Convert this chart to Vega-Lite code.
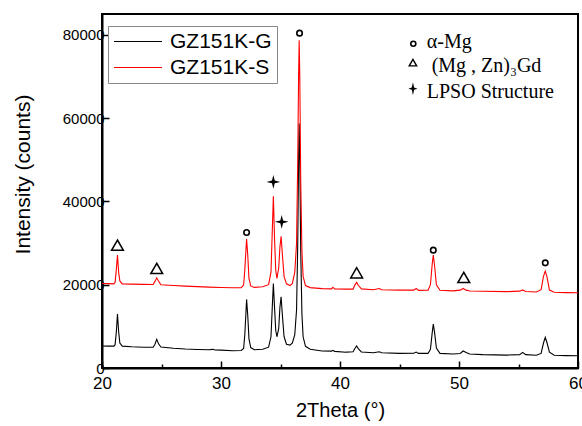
{
  "$schema": "https://vega.github.io/schema/vega-lite/v6.json",
  "autosize": "none",
  "padding": {"left": 102, "top": 14, "right": 4, "bottom": 58},
  "width": 476,
  "height": 354,
  "background": "white",
  "config": {
    "view": {"stroke": "black", "strokeWidth": 2},
    "axis": {"domainColor": "black", "domainWidth": 2, "tickColor": "black", "tickWidth": 1.5, "labelColor": "black", "titleColor": "black", "labelFont": "Liberation Sans", "titleFont": "Liberation Sans", "titleFontWeight": "normal", "grid": false, "labelFlush": false}
  },
  "datasets": {
    "xrd": [
      {"sample": "GZ151K-G", "t": 20.0, "i": 5300}, {"sample": "GZ151K-G", "t": 20.5, "i": 5250}, {"sample": "GZ151K-G", "t": 21.0, "i": 5250}, {"sample": "GZ151K-G", "t": 21.1, "i": 5600}, {"sample": "GZ151K-G", "t": 21.2, "i": 8500}, {"sample": "GZ151K-G", "t": 21.3, "i": 12950}, {"sample": "GZ151K-G", "t": 21.4, "i": 8700}, {"sample": "GZ151K-G", "t": 21.5, "i": 6000}, {"sample": "GZ151K-G", "t": 21.7, "i": 5250}, {"sample": "GZ151K-G", "t": 22.5, "i": 5100}, {"sample": "GZ151K-G", "t": 23.5, "i": 5000}, {"sample": "GZ151K-G", "t": 24.3, "i": 5000}, {"sample": "GZ151K-G", "t": 24.45, "i": 5700}, {"sample": "GZ151K-G", "t": 24.6, "i": 6880}, {"sample": "GZ151K-G", "t": 24.75, "i": 5800}, {"sample": "GZ151K-G", "t": 24.95, "i": 5050}, {"sample": "GZ151K-G", "t": 26.0, "i": 4750}, {"sample": "GZ151K-G", "t": 27.0, "i": 4550}, {"sample": "GZ151K-G", "t": 28.0, "i": 4450}, {"sample": "GZ151K-G", "t": 29.0, "i": 4380}, {"sample": "GZ151K-G", "t": 29.3, "i": 4480}, {"sample": "GZ151K-G", "t": 29.5, "i": 4330}, {"sample": "GZ151K-G", "t": 30.0, "i": 4300}, {"sample": "GZ151K-G", "t": 31.0, "i": 4150}, {"sample": "GZ151K-G", "t": 31.7, "i": 4200}, {"sample": "GZ151K-G", "t": 31.9, "i": 4700}, {"sample": "GZ151K-G", "t": 32.0, "i": 8000}, {"sample": "GZ151K-G", "t": 32.1, "i": 13500}, {"sample": "GZ151K-G", "t": 32.15, "i": 16470}, {"sample": "GZ151K-G", "t": 32.25, "i": 12500}, {"sample": "GZ151K-G", "t": 32.35, "i": 7000}, {"sample": "GZ151K-G", "t": 32.5, "i": 4900}, {"sample": "GZ151K-G", "t": 32.8, "i": 4400}, {"sample": "GZ151K-G", "t": 33.5, "i": 4500}, {"sample": "GZ151K-G", "t": 34.0, "i": 5000}, {"sample": "GZ151K-G", "t": 34.2, "i": 7500}, {"sample": "GZ151K-G", "t": 34.3, "i": 14000}, {"sample": "GZ151K-G", "t": 34.4, "i": 20300}, {"sample": "GZ151K-G", "t": 34.5, "i": 14500}, {"sample": "GZ151K-G", "t": 34.6, "i": 9000}, {"sample": "GZ151K-G", "t": 34.7, "i": 7500}, {"sample": "GZ151K-G", "t": 34.85, "i": 9500}, {"sample": "GZ151K-G", "t": 34.95, "i": 14500}, {"sample": "GZ151K-G", "t": 35.05, "i": 17100}, {"sample": "GZ151K-G", "t": 35.15, "i": 13000}, {"sample": "GZ151K-G", "t": 35.3, "i": 7500}, {"sample": "GZ151K-G", "t": 35.5, "i": 5700}, {"sample": "GZ151K-G", "t": 35.8, "i": 5500}, {"sample": "GZ151K-G", "t": 36.0, "i": 6000}, {"sample": "GZ151K-G", "t": 36.2, "i": 8000}, {"sample": "GZ151K-G", "t": 36.35, "i": 14000}, {"sample": "GZ151K-G", "t": 36.45, "i": 30000}, {"sample": "GZ151K-G", "t": 36.52, "i": 50000}, {"sample": "GZ151K-G", "t": 36.57, "i": 58700}, {"sample": "GZ151K-G", "t": 36.62, "i": 50000}, {"sample": "GZ151K-G", "t": 36.7, "i": 28000}, {"sample": "GZ151K-G", "t": 36.8, "i": 13000}, {"sample": "GZ151K-G", "t": 36.9, "i": 7500}, {"sample": "GZ151K-G", "t": 37.1, "i": 5200}, {"sample": "GZ151K-G", "t": 37.5, "i": 4500}, {"sample": "GZ151K-G", "t": 38.5, "i": 4100}, {"sample": "GZ151K-G", "t": 39.3, "i": 4050}, {"sample": "GZ151K-G", "t": 39.4, "i": 4250}, {"sample": "GZ151K-G", "t": 39.55, "i": 4000}, {"sample": "GZ151K-G", "t": 40.5, "i": 3800}, {"sample": "GZ151K-G", "t": 41.1, "i": 3900}, {"sample": "GZ151K-G", "t": 41.25, "i": 4700}, {"sample": "GZ151K-G", "t": 41.4, "i": 5280}, {"sample": "GZ151K-G", "t": 41.55, "i": 4600}, {"sample": "GZ151K-G", "t": 41.8, "i": 3850}, {"sample": "GZ151K-G", "t": 42.8, "i": 3650}, {"sample": "GZ151K-G", "t": 43.3, "i": 3900}, {"sample": "GZ151K-G", "t": 43.5, "i": 3650}, {"sample": "GZ151K-G", "t": 45.0, "i": 3500}, {"sample": "GZ151K-G", "t": 46.2, "i": 3550}, {"sample": "GZ151K-G", "t": 46.4, "i": 3840}, {"sample": "GZ151K-G", "t": 46.6, "i": 3500}, {"sample": "GZ151K-G", "t": 47.4, "i": 3500}, {"sample": "GZ151K-G", "t": 47.6, "i": 4500}, {"sample": "GZ151K-G", "t": 47.75, "i": 8500}, {"sample": "GZ151K-G", "t": 47.84, "i": 10550}, {"sample": "GZ151K-G", "t": 47.95, "i": 8500}, {"sample": "GZ151K-G", "t": 48.1, "i": 4800}, {"sample": "GZ151K-G", "t": 48.4, "i": 3500}, {"sample": "GZ151K-G", "t": 49.5, "i": 3350}, {"sample": "GZ151K-G", "t": 50.1, "i": 3500}, {"sample": "GZ151K-G", "t": 50.35, "i": 4080}, {"sample": "GZ151K-G", "t": 50.6, "i": 3700}, {"sample": "GZ151K-G", "t": 50.9, "i": 3350}, {"sample": "GZ151K-G", "t": 52.0, "i": 3200}, {"sample": "GZ151K-G", "t": 54.0, "i": 3100}, {"sample": "GZ151K-G", "t": 55.1, "i": 3200}, {"sample": "GZ151K-G", "t": 55.35, "i": 3760}, {"sample": "GZ151K-G", "t": 55.6, "i": 3200}, {"sample": "GZ151K-G", "t": 56.5, "i": 3050}, {"sample": "GZ151K-G", "t": 56.9, "i": 3500}, {"sample": "GZ151K-G", "t": 57.1, "i": 6000}, {"sample": "GZ151K-G", "t": 57.25, "i": 7360}, {"sample": "GZ151K-G", "t": 57.4, "i": 6000}, {"sample": "GZ151K-G", "t": 57.6, "i": 3800}, {"sample": "GZ151K-G", "t": 58.0, "i": 3050}, {"sample": "GZ151K-G", "t": 59.0, "i": 2970}, {"sample": "GZ151K-G", "t": 60.0, "i": 2950},
      {"sample": "GZ151K-S", "t": 20.0, "i": 20300}, {"sample": "GZ151K-S", "t": 20.5, "i": 20250}, {"sample": "GZ151K-S", "t": 21.0, "i": 20200}, {"sample": "GZ151K-S", "t": 21.1, "i": 20600}, {"sample": "GZ151K-S", "t": 21.2, "i": 23500}, {"sample": "GZ151K-S", "t": 21.3, "i": 27100}, {"sample": "GZ151K-S", "t": 21.4, "i": 23000}, {"sample": "GZ151K-S", "t": 21.5, "i": 20900}, {"sample": "GZ151K-S", "t": 21.7, "i": 20200}, {"sample": "GZ151K-S", "t": 22.5, "i": 20150}, {"sample": "GZ151K-S", "t": 23.5, "i": 20080}, {"sample": "GZ151K-S", "t": 24.3, "i": 20050}, {"sample": "GZ151K-S", "t": 24.45, "i": 20800}, {"sample": "GZ151K-S", "t": 24.6, "i": 21650}, {"sample": "GZ151K-S", "t": 24.75, "i": 20900}, {"sample": "GZ151K-S", "t": 24.95, "i": 20000}, {"sample": "GZ151K-S", "t": 26.0, "i": 19800}, {"sample": "GZ151K-S", "t": 27.0, "i": 19660}, {"sample": "GZ151K-S", "t": 28.0, "i": 19550}, {"sample": "GZ151K-S", "t": 29.0, "i": 19420}, {"sample": "GZ151K-S", "t": 30.0, "i": 19330}, {"sample": "GZ151K-S", "t": 31.0, "i": 19260}, {"sample": "GZ151K-S", "t": 31.7, "i": 19300}, {"sample": "GZ151K-S", "t": 31.9, "i": 19900}, {"sample": "GZ151K-S", "t": 32.0, "i": 23500}, {"sample": "GZ151K-S", "t": 32.1, "i": 28500}, {"sample": "GZ151K-S", "t": 32.15, "i": 30940}, {"sample": "GZ151K-S", "t": 32.25, "i": 27000}, {"sample": "GZ151K-S", "t": 32.35, "i": 21500}, {"sample": "GZ151K-S", "t": 32.5, "i": 19700}, {"sample": "GZ151K-S", "t": 32.8, "i": 19350}, {"sample": "GZ151K-S", "t": 33.5, "i": 19500}, {"sample": "GZ151K-S", "t": 34.0, "i": 20000}, {"sample": "GZ151K-S", "t": 34.2, "i": 23000}, {"sample": "GZ151K-S", "t": 34.3, "i": 32000}, {"sample": "GZ151K-S", "t": 34.4, "i": 41250}, {"sample": "GZ151K-S", "t": 34.5, "i": 31000}, {"sample": "GZ151K-S", "t": 34.6, "i": 23500}, {"sample": "GZ151K-S", "t": 34.7, "i": 21500}, {"sample": "GZ151K-S", "t": 34.85, "i": 24000}, {"sample": "GZ151K-S", "t": 34.95, "i": 29000}, {"sample": "GZ151K-S", "t": 35.05, "i": 31650}, {"sample": "GZ151K-S", "t": 35.15, "i": 27500}, {"sample": "GZ151K-S", "t": 35.3, "i": 22000}, {"sample": "GZ151K-S", "t": 35.5, "i": 20200}, {"sample": "GZ151K-S", "t": 35.8, "i": 19800}, {"sample": "GZ151K-S", "t": 36.0, "i": 20300}, {"sample": "GZ151K-S", "t": 36.2, "i": 23000}, {"sample": "GZ151K-S", "t": 36.35, "i": 30000}, {"sample": "GZ151K-S", "t": 36.45, "i": 50000}, {"sample": "GZ151K-S", "t": 36.52, "i": 70000}, {"sample": "GZ151K-S", "t": 36.57, "i": 78700}, {"sample": "GZ151K-S", "t": 36.62, "i": 70000}, {"sample": "GZ151K-S", "t": 36.7, "i": 45000}, {"sample": "GZ151K-S", "t": 36.8, "i": 28000}, {"sample": "GZ151K-S", "t": 36.9, "i": 22000}, {"sample": "GZ151K-S", "t": 37.1, "i": 19800}, {"sample": "GZ151K-S", "t": 37.5, "i": 19300}, {"sample": "GZ151K-S", "t": 38.5, "i": 19050}, {"sample": "GZ151K-S", "t": 39.3, "i": 19000}, {"sample": "GZ151K-S", "t": 39.4, "i": 19400}, {"sample": "GZ151K-S", "t": 39.55, "i": 19000}, {"sample": "GZ151K-S", "t": 40.5, "i": 18950}, {"sample": "GZ151K-S", "t": 41.1, "i": 18950}, {"sample": "GZ151K-S", "t": 41.25, "i": 19900}, {"sample": "GZ151K-S", "t": 41.4, "i": 20550}, {"sample": "GZ151K-S", "t": 41.55, "i": 19800}, {"sample": "GZ151K-S", "t": 41.8, "i": 19000}, {"sample": "GZ151K-S", "t": 42.8, "i": 18800}, {"sample": "GZ151K-S", "t": 43.3, "i": 19100}, {"sample": "GZ151K-S", "t": 43.5, "i": 18800}, {"sample": "GZ151K-S", "t": 45.0, "i": 18700}, {"sample": "GZ151K-S", "t": 46.2, "i": 18700}, {"sample": "GZ151K-S", "t": 46.4, "i": 19100}, {"sample": "GZ151K-S", "t": 46.6, "i": 18650}, {"sample": "GZ151K-S", "t": 47.4, "i": 18700}, {"sample": "GZ151K-S", "t": 47.6, "i": 20000}, {"sample": "GZ151K-S", "t": 47.75, "i": 25000}, {"sample": "GZ151K-S", "t": 47.84, "i": 27100}, {"sample": "GZ151K-S", "t": 47.95, "i": 24500}, {"sample": "GZ151K-S", "t": 48.1, "i": 20000}, {"sample": "GZ151K-S", "t": 48.4, "i": 18650}, {"sample": "GZ151K-S", "t": 49.5, "i": 18520}, {"sample": "GZ151K-S", "t": 50.1, "i": 18700}, {"sample": "GZ151K-S", "t": 50.35, "i": 19110}, {"sample": "GZ151K-S", "t": 50.6, "i": 18700}, {"sample": "GZ151K-S", "t": 50.9, "i": 18480}, {"sample": "GZ151K-S", "t": 52.0, "i": 18420}, {"sample": "GZ151K-S", "t": 54.0, "i": 18330}, {"sample": "GZ151K-S", "t": 55.1, "i": 18450}, {"sample": "GZ151K-S", "t": 55.35, "i": 18750}, {"sample": "GZ151K-S", "t": 55.6, "i": 18350}, {"sample": "GZ151K-S", "t": 56.5, "i": 18250}, {"sample": "GZ151K-S", "t": 56.9, "i": 18800}, {"sample": "GZ151K-S", "t": 57.1, "i": 22000}, {"sample": "GZ151K-S", "t": 57.25, "i": 23260}, {"sample": "GZ151K-S", "t": 57.4, "i": 21800}, {"sample": "GZ151K-S", "t": 57.6, "i": 18700}, {"sample": "GZ151K-S", "t": 58.0, "i": 18200}, {"sample": "GZ151K-S", "t": 59.0, "i": 18100}, {"sample": "GZ151K-S", "t": 60.0, "i": 18060}
    ],
    "markers": [
      {"phase": "alpha", "group": "peak", "t": 36.6, "i": 80400},
      {"phase": "alpha", "group": "peak", "t": 32.15, "i": 32540},
      {"phase": "alpha", "group": "peak", "t": 47.84, "i": 28300},
      {"phase": "alpha", "group": "peak", "t": 57.25, "i": 25250},
      {"phase": "alpha", "group": "key", "t": 46.16, "i": 77870},
      {"phase": "tri", "group": "peak", "t": 21.3, "i": 29500},
      {"phase": "tri", "group": "peak", "t": 24.6, "i": 23900},
      {"phase": "tri", "group": "peak", "t": 41.4, "i": 22850},
      {"phase": "tri", "group": "peak", "t": 50.4, "i": 21750},
      {"phase": "tri", "group": "key", "t": 46.13, "i": 73310},
      {"phase": "lpso", "group": "peak", "t": 34.4, "i": 44680},
      {"phase": "lpso", "group": "peak", "t": 35.1, "i": 35090},
      {"phase": "lpso", "group": "key", "t": 46.13, "i": 67080}
    ],
    "notes": [
      {"t": 47.29, "i": 76740, "label": "α-Mg"},
      {"t": 47.7, "i": 71060, "label": "(Mg , Zn)₃Gd"},
      {"t": 47.29, "i": 64920, "label": "LPSO Structure"}
    ]
  },
  "layer": [
    {
      "data": {"name": "xrd"},
      "mark": {"type": "line", "strokeWidth": 1.1},
      "encoding": {
        "x": {"field": "t", "type": "quantitative", "scale": {"domain": [20, 60], "nice": false, "zero": false},
              "axis": {"orient": "bottom", "values": [20, 30, 40, 50, 60], "tickSize": -7, "labelPadding": 14, "labelFontSize": 17, "title": "2Theta (°)", "titleFontSize": 20, "titlePadding": 9}},
        "y": {"field": "i", "type": "quantitative", "scale": {"domain": [0, 85000], "nice": false},
              "axis": {"values": [0, 20000, 40000, 60000, 80000], "format": "d", "tickSize": -7, "labelPadding": 5, "labelFontSize": 15, "title": "Intensity (counts)", "titleFontSize": 21, "titlePadding": 29, "titleY": 160}},
        "color": {"field": "sample", "type": "nominal", "scale": {"domain": ["GZ151K-G", "GZ151K-S"], "range": ["#000000", "#ff0000"]},
                  "legend": {"title": null, "orient": "none", "legendX": 6, "legendY": 12, "symbolType": "stroke", "symbolSize": 2304, "symbolStrokeWidth": 1.2, "clipHeight": 21, "rowPadding": 4, "labelFontSize": 21, "labelFont": "Liberation Sans", "labelColor": "black", "labelOffset": 7, "padding": 5, "strokeColor": "#888888", "fillColor": "white"}},
        "detail": {"field": "sample"}
      }
    },
    {
      "data": {"name": "markers"},
      "transform": [{"filter": "datum.phase == 'alpha' && datum.group == 'peak'"}],
      "mark": {"type": "point", "shape": "circle", "filled": false, "size": 30, "stroke": "black", "strokeWidth": 1.6, "opacity": 1},
      "encoding": {"x": {"field": "t", "type": "quantitative", "axis": {"orient": "bottom", "values": [25, 35, 45, 55], "tickSize": -4, "labels": false, "domain": false, "title": null}}, "y": {"field": "i", "type": "quantitative"}}
    },
    {
      "data": {"name": "markers"},
      "transform": [{"filter": "datum.phase == 'alpha' && datum.group == 'key'"}],
      "mark": {"type": "point", "shape": "circle", "filled": false, "size": 25, "stroke": "black", "strokeWidth": 1.6, "opacity": 1},
      "encoding": {"x": {"field": "t", "type": "quantitative", "axis": null}, "y": {"field": "i", "type": "quantitative"}}
    },
    {
      "data": {"name": "markers"},
      "transform": [{"filter": "datum.phase == 'tri' && datum.group == 'peak'"}],
      "mark": {"type": "point", "shape": "triangle-up", "filled": false, "size": 140, "stroke": "black", "strokeWidth": 1.5, "opacity": 1},
      "encoding": {"x": {"field": "t", "type": "quantitative", "axis": null}, "y": {"field": "i", "type": "quantitative"}}
    },
    {
      "data": {"name": "markers"},
      "transform": [{"filter": "datum.phase == 'tri' && datum.group == 'key'"}],
      "mark": {"type": "point", "shape": "triangle-up", "filled": false, "size": 55, "stroke": "black", "strokeWidth": 1.4, "opacity": 1},
      "encoding": {"x": {"field": "t", "type": "quantitative", "axis": null}, "y": {"field": "i", "type": "quantitative"}}
    },
    {
      "data": {"name": "markers"},
      "transform": [{"filter": "datum.phase == 'lpso' && datum.group == 'peak'"}],
      "mark": {"type": "point", "shape": "M0,-1L0.2,-0.2L1,0L0.2,0.2L0,1L-0.2,0.2L-1,0L-0.2,-0.2Z", "filled": true, "size": 190, "fill": "black", "opacity": 1},
      "encoding": {"x": {"field": "t", "type": "quantitative", "axis": null}, "y": {"field": "i", "type": "quantitative"}}
    },
    {
      "data": {"name": "markers"},
      "transform": [{"filter": "datum.phase == 'lpso' && datum.group == 'key'"}],
      "mark": {"type": "point", "shape": "M0,-1L0.18,-0.18L0.7,0L0.18,0.18L0,1L-0.18,0.18L-0.7,0L-0.18,-0.18Z", "filled": true, "size": 169, "fill": "black", "opacity": 1},
      "encoding": {"x": {"field": "t", "type": "quantitative", "axis": null}, "y": {"field": "i", "type": "quantitative"}}
    },
    {
      "data": {"name": "notes"},
      "mark": {"type": "text", "align": "left", "baseline": "alphabetic", "font": "Liberation Serif", "fontSize": 20, "color": "black"},
      "encoding": {"x": {"field": "t", "type": "quantitative", "axis": null}, "y": {"field": "i", "type": "quantitative"}, "text": {"field": "label"}}
    }
  ],
  "resolve": {"axis": {"x": "independent"}}
}
